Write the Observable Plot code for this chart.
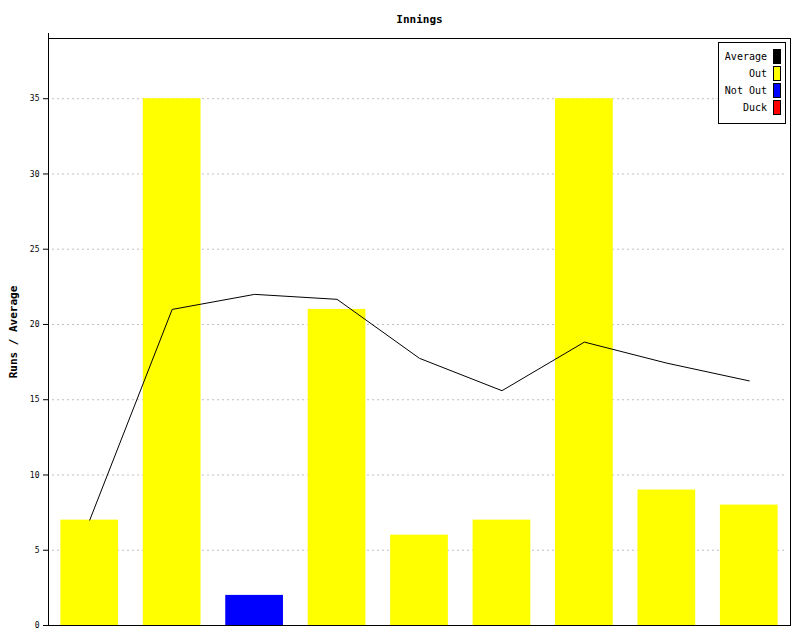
<!DOCTYPE html>
<html>
<head>
<meta charset="utf-8">
<script src="https://cdn.jsdelivr.net/npm/d3@7"></script>
<script src="https://cdn.jsdelivr.net/npm/@observablehq/plot@0.6"></script>
<style>
  html, body { margin: 0; padding: 0; background: #fff; }
  #wrap { position: relative; width: 800px; height: 640px; }
  #legend { position: absolute; left: 718px; top: 42px; width: 66px; height: 80px;
    border: 1px solid #000; background: #fff; font-family: "DejaVu Sans Mono", monospace; font-size: 10px; }
  .row { position: absolute; right: 4px; height: 15px; display: flex; align-items: center; }
  .row span { margin-right: 6px; }
  .sw { width: 6px; height: 13px; border: 1px solid #000; }
</style>
</head>
<body>
<div id="wrap"><div id="legend"></div></div>
<script>
const innings = [1, 2, 3, 4, 5, 6, 7, 8, 9];
const runs = [7, 35, 2, 21, 6, 7, 35, 9, 8];
const status = ["Out", "Out", "Not Out", "Out", "Out", "Out", "Out", "Out", "Out"];
const average = [7, 21, 22, 21.67, 17.75, 15.6, 18.83, 17.43, 16.25];
const yTicks = [0, 5, 10, 15, 20, 25, 30, 35];
const legendLabels = ["Average", "Out", "Not Out", "Duck"];
const legendColors = ["#000000", "#ffff00", "#0000ff", "#ff0000"];

const colorOf = Object.fromEntries(legendLabels.map((l, i) => [l, legendColors[i]]));
const data = innings.map((d, i) => ({inning: d, runs: runs[i], status: status[i], avg: average[i]}));

const chart = Plot.plot({
  width: 800,
  height: 640,
  marginLeft: 48,
  marginRight: 10,
  marginTop: 38,
  marginBottom: 15,
  style: {fontFamily: "DejaVu Sans Mono, monospace", fontSize: "8px", background: "#fff"},
  x: {type: "band", domain: innings, paddingInner: 0.3, paddingOuter: 0.15, round: false, axis: null},
  y: {domain: [0, 39], axis: null},
  marks: [
    Plot.ruleY(yTicks.filter(t => t > 0), {stroke: "#c0c0c0", strokeDasharray: "2,3", insetLeft: 4, insetRight: 3}),
    Plot.barY(data, {x: "inning", y: "runs", fill: d => colorOf[d.status]}),
    Plot.lineY(data, {x: "inning", y: "avg", stroke: "#000", strokeWidth: 1}),
    Plot.axisY(yTicks, {tickSize: 5, tickPadding: 4, fontSize: 8, fill: "#000", stroke: "#000"}),
    Plot.frame({stroke: "#000"}),
    Plot.text(["Innings"], {frameAnchor: "top", dy: -23, fontSize: 11, fontWeight: "bold", fill: "#000"}),
    Plot.text(["Runs / Average"], {frameAnchor: "left", dx: -35, rotate: -90, textAnchor: "middle", fontSize: 11, fontWeight: "bold", fill: "#000", letterSpacing: 0.4})
  ]
});

const svg = d3.select(chart);
svg.append("line").attr("x1", 48.5).attr("x2", 48.5).attr("y1", 33).attr("y2", 625)
  .attr("stroke", "#000");

document.getElementById("wrap").prepend(chart);

const leg = document.getElementById("legend");
legendLabels.forEach((l, i) => {
  const row = document.createElement("div");
  row.className = "row";
  row.style.top = (6 + i * 17) + "px";
  row.innerHTML = `<span>${l}</span><div class="sw" style="background:${legendColors[i]}"></div>`;
  leg.appendChild(row);
});
</script>
</body>
</html>
